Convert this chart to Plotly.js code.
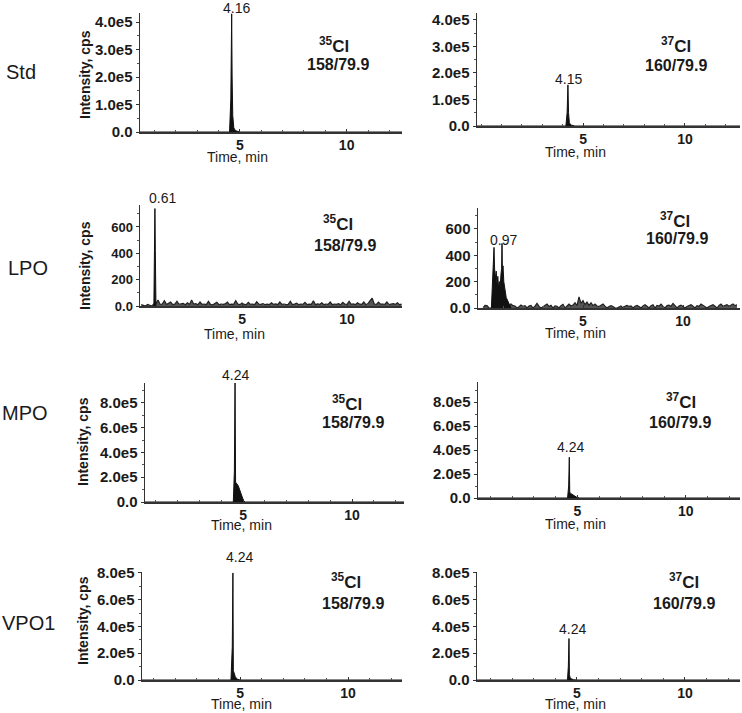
<!DOCTYPE html>
<html>
<head>
<meta charset="utf-8">
<script src="https://cdn.plot.ly/plotly-3.0.1.min.js"></script>
<style>html,body{margin:0;padding:0;background:#fff}#chart{width:742px;height:713px}</style>
</head>
<body>
<div id="chart"></div>
<script>
/*--------------------------------------------------------------------------
    +++ data
--------------------------------------------------------------------------*/
var rowNames = ['Std', 'LPO', 'MPO', 'VPO1'];
var peakLabels = ['4.16', '4.15', '0.61', '0.97', '4.24', '4.24', '4.24', '4.24'];

// Std
var std35T = [0.3, 4.52, 4.58, 4.62, 4.64, 4.67, 4.72, 4.8, 5.0, 12.6];
var std35Y = [0, 0, 1.2e5, 4.3e5, 2.0e5, 0.6e5, 0.15e5, 0.05e5, 0, 0];
var std37T = [-0.2, 4.16, 4.22, 4.26, 4.29, 4.33, 4.4, 4.6, 12.7];
var std37Y = [0, 0, 0.5e5, 1.55e5, 0.5e5, 0.12e5, 0.04e5, 0, 0];

// LPO, spike + baseline noise (noise sampled every 0.1 min)
var lpo35PeakT = [0.80, 0.83, 0.85, 0.87, 0.90];
var lpo35PeakY = [0, 380, 740, 420, 0];
var lpo35NoiseStart = 0.2;
var lpo35Noise = [10, 5, 0, 12, 8, 0, 15, 20, 45, 12,
    15, 40, 12, 18, 30, 10, 14, 35, 12, 16,
    20, 10, 25, 12, 45, 14, 18, 10, 30, 12,
    15, 10, 35, 12, 8, 18, 28, 10, 14, 12,
    16, 30, 10, 14, 12, 40, 15, 10, 22, 12,
    10, 28, 12, 15, 10, 32, 14, 12, 18, 10,
    14, 10, 25, 12, 16, 10, 30, 12, 15, 10,
    12, 35, 10, 14, 22, 10, 15, 12, 28, 10,
    14, 12, 40, 10, 16, 12, 25, 10, 14, 12,
    30, 10, 15, 12, 18, 10, 28, 14, 12, 35,
    12, 16, 10, 25, 14, 12, 30, 10, 18, 40,
    60, 15, 12, 30, 14, 15, 12, 30, 10, 14,
    18, 12, 25, 10, 14];

var lpo37PeakT = [0.42, 0.47, 0.52, 0.55, 0.58, 0.62, 0.66, 0.70, 0.74, 0.78, 0.82, 0.86, 0.90, 0.93, 0.95, 0.97, 1.0, 1.04, 1.08, 1.12, 1.16, 1.22, 1.3, 1.4];
var lpo37PeakY = [0, 150, 350, 460, 300, 220, 280, 180, 240, 150, 200, 160, 260, 300, 490, 280, 320, 200, 160, 120, 80, 60, 35, 0];
var lpo37NoiseStart = 0.0;
var lpo37Noise = [0, 20, 18, 0,
    0, 0, 0, 0, 0, 0, 0, 0, 0, 0,
    30, 18, 15, 0, 10, 22, 12, 18, 0, 15,
    20, 0, 14, 35, 12, 0, 10, 18, 30, 12,
    20, 0, 15, 12, 0, 18, 28, 0, 14, 30,
    15, 22, 40, 18, 85, 35, 55, 25, 45, 20,
    40, 18, 30, 15, 12, 22, 30, 14, 0, 12,
    18, 12, 0, 0, 10, 16, 0, 14, 20, 12,
    15, 0, 14, 20, 12, 0, 16, 25, 14, 0,
    18, 25, 0, 20, 14, 30, 12, 0, 18, 22,
    14, 35, 18, 0, 15, 22, 12, 0, 12, 18,
    25, 14, 0, 18, 12, 30, 20, 14, 0, 12,
    18, 25, 14, 0, 20, 30, 12, 18, 25, 14,
    20, 30, 18, 25];

// MPO
var mpo35T = [0.5, 4.55, 4.60, 4.63, 4.655, 4.68, 4.72, 4.78, 4.84, 4.90, 4.96, 5.02, 5.1, 12.4];
var mpo35Y = [0, 0, 2.5e5, 9.6e5, 1.6e5, 1.5e5, 1.45e5, 1.3e5, 1.0e5, 0.6e5, 0.3e5, 0.1e5, 0, 0];
var mpo37T = [0.42, 4.55, 4.60, 4.63, 4.65, 4.68, 4.75, 4.85, 4.95, 5.1, 12.5];
var mpo37Y = [0, 0, 1.0e5, 3.4e5, 0.5e5, 0.38e5, 0.32e5, 0.2e5, 0.08e5, 0, 0];

// VPO1
var vpo35T = [0.46, 4.58, 4.64, 4.67, 4.69, 4.72, 4.78, 4.85, 5.0, 12.5];
var vpo35Y = [0, 0, 2.5e5, 8.0e5, 0.7e5, 0.5e5, 0.25e5, 0.08e5, 0, 0];
var vpo37T = [0.37, 4.56, 4.60, 4.63, 4.65, 4.68, 4.74, 4.85, 5.0, 12.55];
var vpo37Y = [0, 0, 1.0e5, 3.1e5, 0.4e5, 0.2e5, 0.08e5, 0.02e5, 0, 0];

// tick labels
var tickE5a = [0, 1e5, 2e5, 3e5, 4e5];
var tickE5aText = ['0.0', '1.0e5', '2.0e5', '3.0e5', '4.0e5'];
var tickLpo = [0, 200, 400, 600];
var tickLpoText = ['0.0', '200', '400', '600'];
var tickE5b = [0, 2e5, 4e5, 6e5, 8e5];
var tickE5bText = ['0.0', '2.0e5', '4.0e5', '6.0e5', '8.0e5'];

/*--------------------------------------------------------------------------
    +++ helpers
--------------------------------------------------------------------------*/
var W = 742, H = 713;
function fx(p) { return p / W; }
function fy(p) { return 1 - p / H; }
function grid(start, vals) {
    var t = [];
    vals.forEach(function (v, i) { t.push(+(start + i * 0.1).toFixed(2)); });
    return t;
}
var FONT = 'Liberation Sans, Arial, sans-serif';
var INK = '#1a1a1a';

function peakTrace(t, y, n) {
    return {
        x: t, y: y, type: 'scatter', mode: 'lines',
        xaxis: 'x' + n, yaxis: 'y' + n,
        line: {color: '#111', width: 1},
        fill: 'tozeroy', fillcolor: '#111',
        hoverinfo: 'skip'
    };
}
function noiseTrace(t, y, n) {
    return {
        x: t, y: y, type: 'scatter', mode: 'lines',
        xaxis: 'x' + n, yaxis: 'y' + n,
        line: {color: '#222', width: 1.2},
        fill: 'tozeroy', fillcolor: '#555',
        hoverinfo: 'skip'
    };
}

var data = [
    peakTrace(std35T, std35Y, 1),
    peakTrace(std37T, std37Y, 2),
    noiseTrace(grid(lpo35NoiseStart, lpo35Noise), lpo35Noise, 3),
    peakTrace(lpo35PeakT, lpo35PeakY, 3),
    noiseTrace(grid(lpo37NoiseStart, lpo37Noise), lpo37Noise, 4),
    peakTrace(lpo37PeakT, lpo37PeakY, 4),
    peakTrace(mpo35T, mpo35Y, 5),
    peakTrace(mpo37T, mpo37Y, 6),
    peakTrace(vpo35T, vpo35Y, 7),
    peakTrace(vpo37T, vpo37Y, 8)
];

// panel boxes in pixels: left, right, top, bottom
var boxes = [
    [140, 402, 13, 132], [477, 740, 13, 126],
    [140, 402, 205, 306], [478, 740, 208, 308],
    [145, 404, 383, 502], [478, 740, 382, 498],
    [142, 402, 572, 680], [477, 740, 572, 680]
];
var xRanges = [[0.33, 12.59], [-0.2, 12.7], [0.14, 12.62], [-0.25, 12.85],
    [0.5, 12.38], [0.42, 12.5], [0.46, 12.5], [0.37, 12.55]];
var yRanges = [[0, 4.33e5], [0, 4.26e5], [0, 767], [0, 759],
    [0, 9.6e5], [0, 9.67e5], [0, 8.07e5], [0, 8.07e5]];
var yTicks = [[tickE5a, tickE5aText, 0.5e5], [tickE5a, tickE5aText, 0.5e5],
    [tickLpo, tickLpoText, 100], [tickLpo, tickLpoText, 100],
    [tickE5b, tickE5bText, 1e5], [tickE5b, tickE5bText, 1e5],
    [tickE5b, tickE5bText, 1e5], [tickE5b, tickE5bText, 1e5]];
var yTickSize = [15, 15, 13, 15, 15, 15, 15, 15];

var layout = {
    width: W, height: H,
    margin: {l: 0, r: 0, t: 0, b: 0},
    paper_bgcolor: '#fff', plot_bgcolor: 'rgba(0,0,0,0)',
    showlegend: false,
    font: {family: FONT, color: INK},
    annotations: []
};

boxes.forEach(function (b, i) {
    var n = i + 1;
    var xa = n === 1 ? 'xaxis' : 'xaxis' + n;
    var ya = n === 1 ? 'yaxis' : 'yaxis' + n;
    layout[xa] = {
        domain: [fx(b[0]), fx(b[1])],
        anchor: 'y' + n,
        range: xRanges[i],
        tickvals: [5, 10],
        ticks: 'inside', ticklen: 3, tickcolor: '#333',
        minor: {dtick: 1, tick0: 0, ticks: 'inside', ticklen: 2, tickcolor: '#555'},
        showline: true, linecolor: '#333', linewidth: 1.5,
        showgrid: false, zeroline: false,
        tickfont: {family: FONT, size: 14, color: INK, weight: 'bold'},
        fixedrange: true
    };
    layout[ya] = {
        domain: [fy(b[3]), fy(b[2])],
        anchor: 'x' + n,
        range: yRanges[i],
        tickvals: yTicks[i][0], ticktext: yTicks[i][1],
        ticks: 'outside', ticklen: 3, tickcolor: '#333',
        minor: {dtick: yTicks[i][2], tick0: 0, ticks: 'outside', ticklen: 2, tickcolor: '#555'},
        showline: true, linecolor: '#333', linewidth: 1.5,
        showgrid: false, zeroline: false,
        tickfont: {family: FONT, size: yTickSize[i], color: INK, weight: 'bold'},
        fixedrange: true
    };
});

function note(text, x, y, size, opts) {
    var a = {
        text: text, xref: 'paper', yref: 'paper',
        x: fx(x), y: fy(y), xanchor: 'center', yanchor: 'middle',
        showarrow: false,
        font: {family: FONT, size: size, color: INK}
    };
    for (var k in opts) a[k] = opts[k];
    layout.annotations.push(a);
}

// row names
var rowPos = [[21, 72], [28, 268], [25, 413], [28, 623]];
rowNames.forEach(function (r, i) { note(r, rowPos[i][0], rowPos[i][1], 20); });

// y titles (left column only)
var yTitlePos = [[85, 75], [85, 266], [83, 442], [83, 621]];
yTitlePos.forEach(function (p) {
    note('Intensity, cps', p[0], p[1], 14, {textangle: -90, font: {family: FONT, size: 14, color: INK, weight: 'bold'}});
});

// x titles
var xTitlePos = [[237, 157], [575, 152], [234, 334], [575, 333], [241, 525], [575, 524], [241, 704], [575, 704]];
xTitlePos.forEach(function (p) { note('Time, min', p[0], p[1], 14); });

// peak labels
var peakPos = [[236, 8], [568, 79], [162, 198], [503, 240], [235, 375], [570, 447], [240, 557], [572, 629]];
peakPos.forEach(function (p, i) { note(peakLabels[i], p[0], p[1], 14); });

// transitions
var isoText = ['<sup>35</sup>Cl', '<sup>37</sup>Cl'];
var mrmText = ['158/79.9', '160/79.9'];
var isoPos = [[334, 45, 338, 64], [676, 45, 676, 65], [338, 223, 345, 245], [675, 220, 677, 239],
    [347, 403, 353, 423], [681, 401, 680, 422], [346, 581, 353, 603], [684, 581, 684, 603]];
isoPos.forEach(function (p, i) {
    note(isoText[i % 2], p[0], p[1], 17, {font: {family: FONT, size: 17, color: INK, weight: 'bold'}});
    note(mrmText[i % 2], p[2], p[3], 16, {font: {family: FONT, size: 16, color: INK, weight: 'bold'}});
});

Plotly.newPlot('chart', data, layout, {displayModeBar: false, staticPlot: true});
</script>
</body>
</html>
